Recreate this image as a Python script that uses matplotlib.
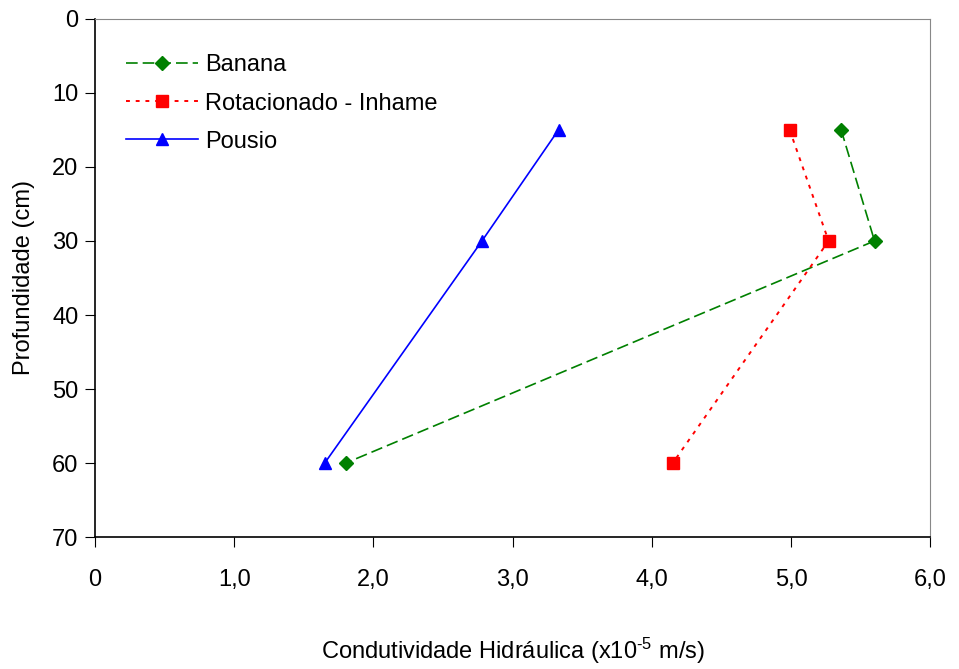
import matplotlib
matplotlib.use("Agg")
import matplotlib.pyplot as plt
from matplotlib.ticker import FuncFormatter

plt.rcParams["font.family"] = ["Liberation Sans", "DejaVu Sans"]
plt.rcParams["mathtext.fontset"] = "custom"
plt.rcParams["mathtext.rm"] = "Liberation Sans"
plt.rcParams["mathtext.default"] = "regular"

profundidade = [15, 30, 60]
banana = [5.36, 5.60, 1.80]
rotacionado = [4.99, 5.27, 4.15]
pousio = [3.33, 2.78, 1.65]

x_ticks = [0, 1, 2, 3, 4, 5, 6]
y_ticks = [0, 10, 20, 30, 40, 50, 60, 70]

fig = plt.figure(figsize=(9.59, 6.69), dpi=100)
ax = fig.add_axes([0.099, 0.197, 0.871, 0.775])

ax.plot(banana, profundidade, color="#008000", ls=(0, (7, 3)), lw=1.2,
        marker="D", ms=7, label="Banana")
ax.plot(rotacionado, profundidade, color="#ff0000", ls=(0, (2, 3)), lw=1.4,
        marker="s", ms=8, label="Rotacionado - Inhame")
ax.plot(pousio, profundidade, color="#0000ff", ls="-", lw=1.2,
        marker="^", ms=9, label="Pousio")

ax.set_xlim(0, 6)
ax.set_ylim(70, 0)
ax.set_xticks(x_ticks)
ax.set_yticks(y_ticks)
ax.xaxis.set_major_formatter(FuncFormatter(lambda v, p: "0" if v == 0 else f"{v:.1f}".replace(".", ",")))

for s in ["top", "right"]:
    ax.spines[s].set_color("#888888")
for s in ["left", "bottom"]:
    ax.spines[s].set_color("black")
    ax.spines[s].set_linewidth(1.2)

ax.tick_params(axis="x", direction="out", length=7, pad=16, labelsize=17)
ax.tick_params(axis="y", direction="out", length=7, pad=5, labelsize=17)

ax.set_xlabel("Condutividade Hidráulica (x10$^{\\text{-5}}$ m/s)", fontsize=17, labelpad=32)
ax.set_ylabel("Profundidade (cm)", fontsize=17, labelpad=12)

ax.legend(loc="upper left", bbox_to_anchor=(0.012, 0.972), frameon=False,
          fontsize=17, handlelength=3.05, handletextpad=0.3, labelspacing=0.68)

fig.savefig("out.png", dpi=100)
